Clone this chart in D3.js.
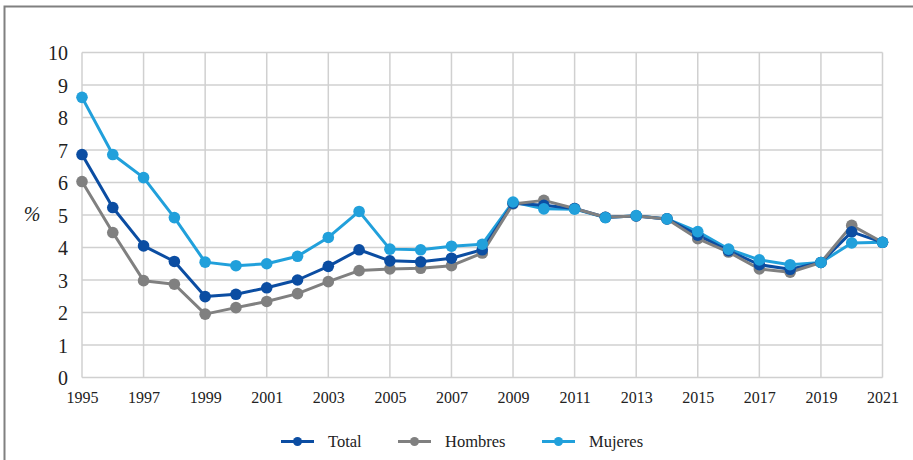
<!DOCTYPE html>
<html>
<head>
<meta charset="utf-8">
<script src="https://cdn.jsdelivr.net/npm/d3@7"></script>
<style>
	body { margin: 0; background: #fff; }
</style>
</head>
<body>
<svg id="chart" width="913" height="460"></svg>
<script>
var years = d3.range(1995, 2022);
var total   = [6.86, 5.23, 4.05, 3.57, 2.49, 2.56, 2.76, 3.0, 3.42, 3.93, 3.59, 3.56, 3.67, 3.93, 5.36, 5.3, 5.2, 4.93, 4.97, 4.88, 4.38, 3.9, 3.47, 3.33, 3.54, 4.48, 4.16];
var hombres = [6.03, 4.46, 2.98, 2.87, 1.95, 2.15, 2.34, 2.58, 2.95, 3.29, 3.34, 3.36, 3.44, 3.83, 5.34, 5.45, 5.2, 4.93, 4.97, 4.88, 4.27, 3.86, 3.34, 3.24, 3.54, 4.68, 4.16];
var mujeres = [8.62, 6.86, 6.15, 4.92, 3.55, 3.44, 3.5, 3.73, 4.31, 5.11, 3.95, 3.93, 4.04, 4.1, 5.4, 5.19, 5.18, 4.92, 4.98, 4.88, 4.49, 3.95, 3.62, 3.47, 3.54, 4.14, 4.16];
var seriesNames = ["Total", "Hombres", "Mujeres"];
var yTicks = d3.range(0, 11);
var xTicks = d3.range(1995, 2022, 2);

var FONT = "'Liberation Serif', 'DejaVu Serif', serif";
var colors = {Total: "#0b4da2", Hombres: "#808080", Mujeres: "#21a0db"};
var series = [
	{name: "Total", values: total},
	{name: "Hombres", values: hombres},
	{name: "Mujeres", values: mujeres}
];

var svg = d3.select("#chart");

// outer frame (only top and left visible)
svg.append("rect")
	.attr("x", 4.5).attr("y", 6.5)
	.attr("width", 940).attr("height", 480)
	.attr("fill", "none").attr("stroke", "#808080").attr("stroke-width", 2);

var x = d3.scaleLinear().domain([1995, 2021]).range([82, 882.5]);
var y = d3.scaleLinear().domain([0, 10]).range([377.5, 52.5]);

var grid = svg.append("g").attr("class", "grid");
grid.selectAll("line.h").data(yTicks).enter().append("line")
	.attr("class", "h")
	.attr("x1", x(1995)).attr("x2", x(2021))
	.attr("y1", function(d) { return y(d); })
	.attr("y2", function(d) { return y(d); })
	.attr("stroke", "#d0d0d0").attr("stroke-width", 1.5);
grid.selectAll("line.v").data(xTicks).enter().append("line")
	.attr("class", "v")
	.attr("y1", y(0)).attr("y2", y(10))
	.attr("x1", function(d) { return x(d); })
	.attr("x2", function(d) { return x(d); })
	.attr("stroke", "#d0d0d0").attr("stroke-width", 1.5);

// axes (labels only)
var yAxis = svg.append("g")
	.attr("transform", "translate(" + x(1995) + ",0)")
	.call(d3.axisLeft(y).tickValues(yTicks).tickSize(0).tickPadding(14).tickFormat(d3.format("d")));
yAxis.select(".domain").remove();
yAxis.selectAll("text").style("font-size", "20px").attr("dy", "0.35em");

var xAxis = svg.append("g")
	.attr("transform", "translate(0," + y(0) + ")")
	.call(d3.axisBottom(x).tickValues(xTicks).tickSize(0).tickPadding(14).tickFormat(d3.format("d")));
xAxis.select(".domain").remove();
xAxis.selectAll("text").style("font-size", "16px");

svg.append("text")
	.attr("x", 32).attr("y", y(5) + 6)
	.attr("text-anchor", "middle")
	.style("font-size", "20px").style("font-style", "italic")
	.text("%");

var line = d3.line()
	.x(function(d, i) { return x(years[i]); })
	.y(function(d) { return y(d); });

// lines first, then markers on top
var lineOrder = ["Mujeres", "Total", "Hombres"];
var markOrder = ["Hombres", "Total", "Mujeres"];

lineOrder.forEach(function(name) {
	var s = series.find(function(d) { return d.name == name; });
	svg.append("path")
		.datum(s.values)
		.attr("fill", "none")
		.attr("stroke", colors[name])
		.attr("stroke-width", 3)
		.attr("stroke-linejoin", "round")
		.attr("d", line);
});

markOrder.forEach(function(name) {
	var s = series.find(function(d) { return d.name == name; });
	svg.append("g").selectAll("circle").data(s.values).enter().append("circle")
		.attr("cx", function(d, i) { return x(years[i]); })
		.attr("cy", function(d) { return y(d); })
		.attr("r", 5.8)
		.attr("fill", colors[name]);
});

// legend
var legendX = [281, 398, 542];
var legend = svg.append("g").attr("class", "legend");
seriesNames.forEach(function(name, i) {
	var g = legend.append("g").attr("transform", "translate(" + legendX[i] + ",441.5)");
	g.append("line").attr("x1", 0).attr("x2", 33).attr("y1", 0).attr("y2", 0)
		.attr("stroke", colors[name]).attr("stroke-width", 3);
	g.append("circle").attr("cx", 16.5).attr("cy", 0).attr("r", 4.5).attr("fill", colors[name]);
	g.append("text").attr("x", 47).attr("y", 0).attr("dy", "0.35em")
		.style("font-size", "16.5px").text(name);
});

// one font for every text in the chart
svg.selectAll("text")
	.style("font-family", FONT)
	.attr("fill", "#222");
</script>
</body>
</html>
